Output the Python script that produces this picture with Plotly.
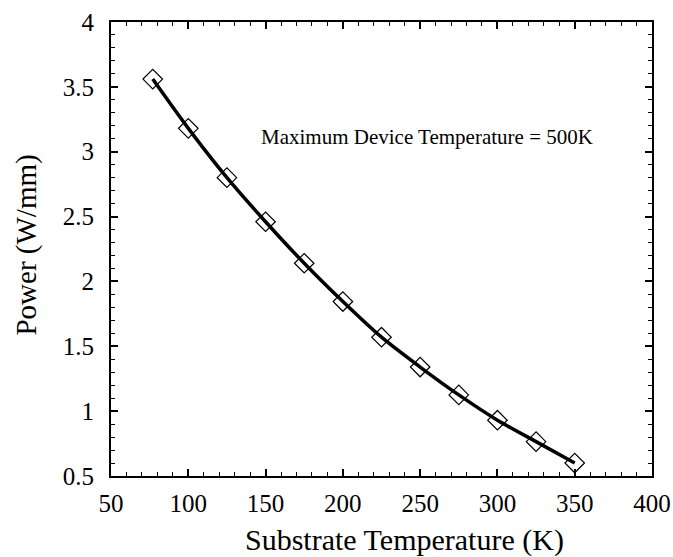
import plotly.graph_objects as go

temperature = [77, 100, 125, 150, 175, 200, 225, 250, 275, 300, 325, 350]
power = [3.56, 3.18, 2.80, 2.46, 2.14, 1.845, 1.57, 1.34, 1.125, 0.93, 0.765, 0.60]

x_ticks = [50, 100, 150, 200, 250, 300, 350, 400]
y_ticks = [0.5, 1, 1.5, 2, 2.5, 3, 3.5, 4]
y_tick_labels = ["0.5", "1", "1.5", "2", "2.5", "3", "3.5", "4"]

FONT = "Liberation Serif, Times New Roman, serif"

fig = go.Figure()
fig.add_trace(go.Scatter(
    x=temperature, y=power, mode="lines",
    line=dict(color="black", width=3.5, shape="spline", smoothing=0.8),
    showlegend=False, hoverinfo="skip"))
fig.add_trace(go.Scatter(
    x=temperature, y=power, mode="markers",
    marker=dict(symbol="diamond-open", size=15, color="black", line=dict(width=1.2, color="black")),
    showlegend=False))

axis_common = dict(
    showgrid=False, zeroline=False, showline=True, linecolor="black", linewidth=2,
    mirror="ticks", ticks="inside", ticklen=7, tickwidth=1.5, tickcolor="black",
    tickfont=dict(family=FONT, size=25, color="black"), automargin=False,
    ticklabeloverflow="allow",
)

fig.update_xaxes(
    range=[50, 400], tickvals=x_ticks, ticktext=[str(v) for v in x_ticks],
    ticklabelstandoff=4,
    minor=dict(dtick=10, ticks="inside", ticklen=4, tickwidth=1.2, tickcolor="black", showgrid=False),
    **axis_common)
fig.update_yaxes(
    range=[0.5, 4], tickvals=y_ticks, ticktext=y_tick_labels, ticklabelstandoff=10,
    minor=dict(dtick=0.1, ticks="inside", ticklen=4, tickwidth=1.2, tickcolor="black", showgrid=False),
    **axis_common)

fig.add_annotation(
    x=0.543, y=-0.141, xref="paper", yref="paper", xanchor="center", yanchor="middle",
    text="Substrate Temperature (K)", showarrow=False,
    font=dict(family=FONT, size=30, color="black"))
fig.add_annotation(
    x=-0.156, y=0.509, xref="paper", yref="paper", xanchor="center", yanchor="middle",
    text="Power (W/mm)", showarrow=False, textangle=-90,
    font=dict(family=FONT, size=29, color="black"))
fig.add_annotation(
    x=0.584, y=0.747, xref="paper", yref="paper", xanchor="center", yanchor="middle",
    text="Maximum Device Temperature = 500K", showarrow=False,
    font=dict(family=FONT, size=21, color="black"))

fig.update_layout(
    width=673, height=557,
    margin=dict(l=111, r=21, t=22, b=81),
    paper_bgcolor="white", plot_bgcolor="white",
)

# remove the default 8px body margin so the 673x557 figure fills the window exactly
fig.write_html("out.html", config={"displayModeBar": False},
               post_script="document.body.style.margin='0px';")
